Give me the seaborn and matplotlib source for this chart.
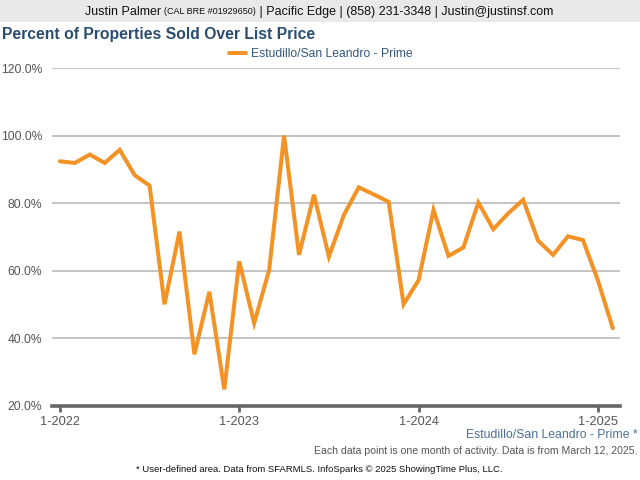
import numpy as np
import pandas as pd
import seaborn as sns
import matplotlib.pyplot as plt
from matplotlib.patches import Rectangle

# monthly values, Jan 2022 .. Feb 2025
months = pd.date_range("2022-01-01", "2025-02-01", freq="MS").strftime("%Y-%m").tolist()
pct_over_list = [92.4, 91.9, 94.4, 91.9, 95.8, 88.3, 85.2, 50.1, 71.6, 35.3, 53.8, 24.9,
                 62.8, 44.5, 60.2, 100.0, 64.7, 82.5, 64.2, 76.5, 84.7, 82.6, 80.4, 50.1,
                 57.2, 78.0, 64.4, 66.9, 80.2, 72.3, 77.0, 81.0, 68.9, 64.7, 70.2, 69.1,
                 57.2, 43.0]
series_name = "Estudillo/San Leandro - Prime"
year_ticks = ["2022-01", "2023-01", "2024-01", "2025-01"]
year_labels = ["1-2022", "1-2023", "1-2024", "1-2025"]
y_ticks = [20, 40, 60, 80, 100, 120]

df = pd.DataFrame({"month": months, "pct": pct_over_list})
df["idx"] = np.arange(len(df))

sns.set_theme(style="white")
plt.rcParams["font.family"] = ["Liberation Sans", "DejaVu Sans"]

orange = "#F39325"
fig = plt.figure(figsize=(6.4, 4.8), dpi=100)
ax = fig.add_axes([52 / 640, 1 - 406 / 480, 568 / 640, 338 / 480])

sns.lineplot(data=df, x="idx", y="pct", color=orange, linewidth=2.9, ax=ax,
             label=series_name, legend=False, solid_joinstyle="miter")

ax.set_ylim(20, 120)
ax.set_xlim(-0.53, 37.48)
ax.set_yticks(y_ticks)
ax.set_yticklabels([f"{v:.1f}%" for v in y_ticks], color="#555555", fontsize=8.7)
ax.set_xticks([months.index(m) for m in year_ticks])
ax.set_xticklabels(year_labels, color="#555555", fontsize=9.2)
ax.set_xlabel("")
ax.set_ylabel("")
for v in y_ticks[1:]:
    ax.axhline(v, color="#b4b4b4", linewidth=1.1, zorder=0)
for s in ["top", "right", "left"]:
    ax.spines[s].set_visible(False)
ax.spines["bottom"].set_color("#666666")
ax.spines["bottom"].set_linewidth(2.6)
ax.tick_params(axis="x", length=4, width=2, color="#666666", pad=3.5, bottom=True)
ax.tick_params(axis="y", length=0, pad=7)

# legend
ax.legend(handles=ax.get_lines()[:1], labels=[series_name], loc="center",
          bbox_to_anchor=(321 / 640, 1 - 54 / 480), bbox_transform=fig.transFigure,
          frameon=False, fontsize=8.7, handlelength=1.4, handletextpad=0.45,
          labelcolor="#34577c")

# header bar
fig.patches.append(Rectangle((0, 1 - 22 / 480), 1, 22 / 480, transform=fig.transFigure,
                             facecolor="#e9e9e9", edgecolor="none", zorder=0))
parts = [("Justin Palmer ", 9), ("(CAL BRE #01929650)", 6.5),
         (" | Pacific Edge | (858) 231-3348 | Justin@justinsf.com", 9)]
fig.canvas.draw()
r = fig.canvas.get_renderer()
texts = []
for s, fs in parts:
    t = fig.text(0, 1 - 12 / 480, s, fontsize=fs, color="#111111", va="center", ha="left")
    texts.append(t)
widths = [t.get_window_extent(r).width for t in texts]
x0 = (638 - sum(widths)) / 2
for t, w in zip(texts, widths):
    t.set_x(x0 / 640)
    x0 += w

fig.text(2 / 640, 1 - 34 / 480, "Percent of Properties Sold Over List Price",
         fontsize=11.3, fontweight="bold", color="#2a4d70", va="center", ha="left")

# footer
fig.text(638 / 640, 1 - 435 / 480, series_name + " *", fontsize=8.8, color="#4a6f98",
         ha="right", va="center")
fig.text(637 / 640, 1 - 451 / 480,
         "Each data point is one month of activity. Data is from March 12, 2025.",
         fontsize=7.6, color="#555555", ha="right", va="center")
fig.text(319 / 640, 1 - 470 / 480,
         "* User-defined area. Data from SFARMLS. InfoSparks \u00a9 2025 ShowingTime Plus, LLC.",
         fontsize=6.8, color="#111111", ha="center", va="center")

fig.savefig("out.png", dpi=100)
plt.close(fig)
